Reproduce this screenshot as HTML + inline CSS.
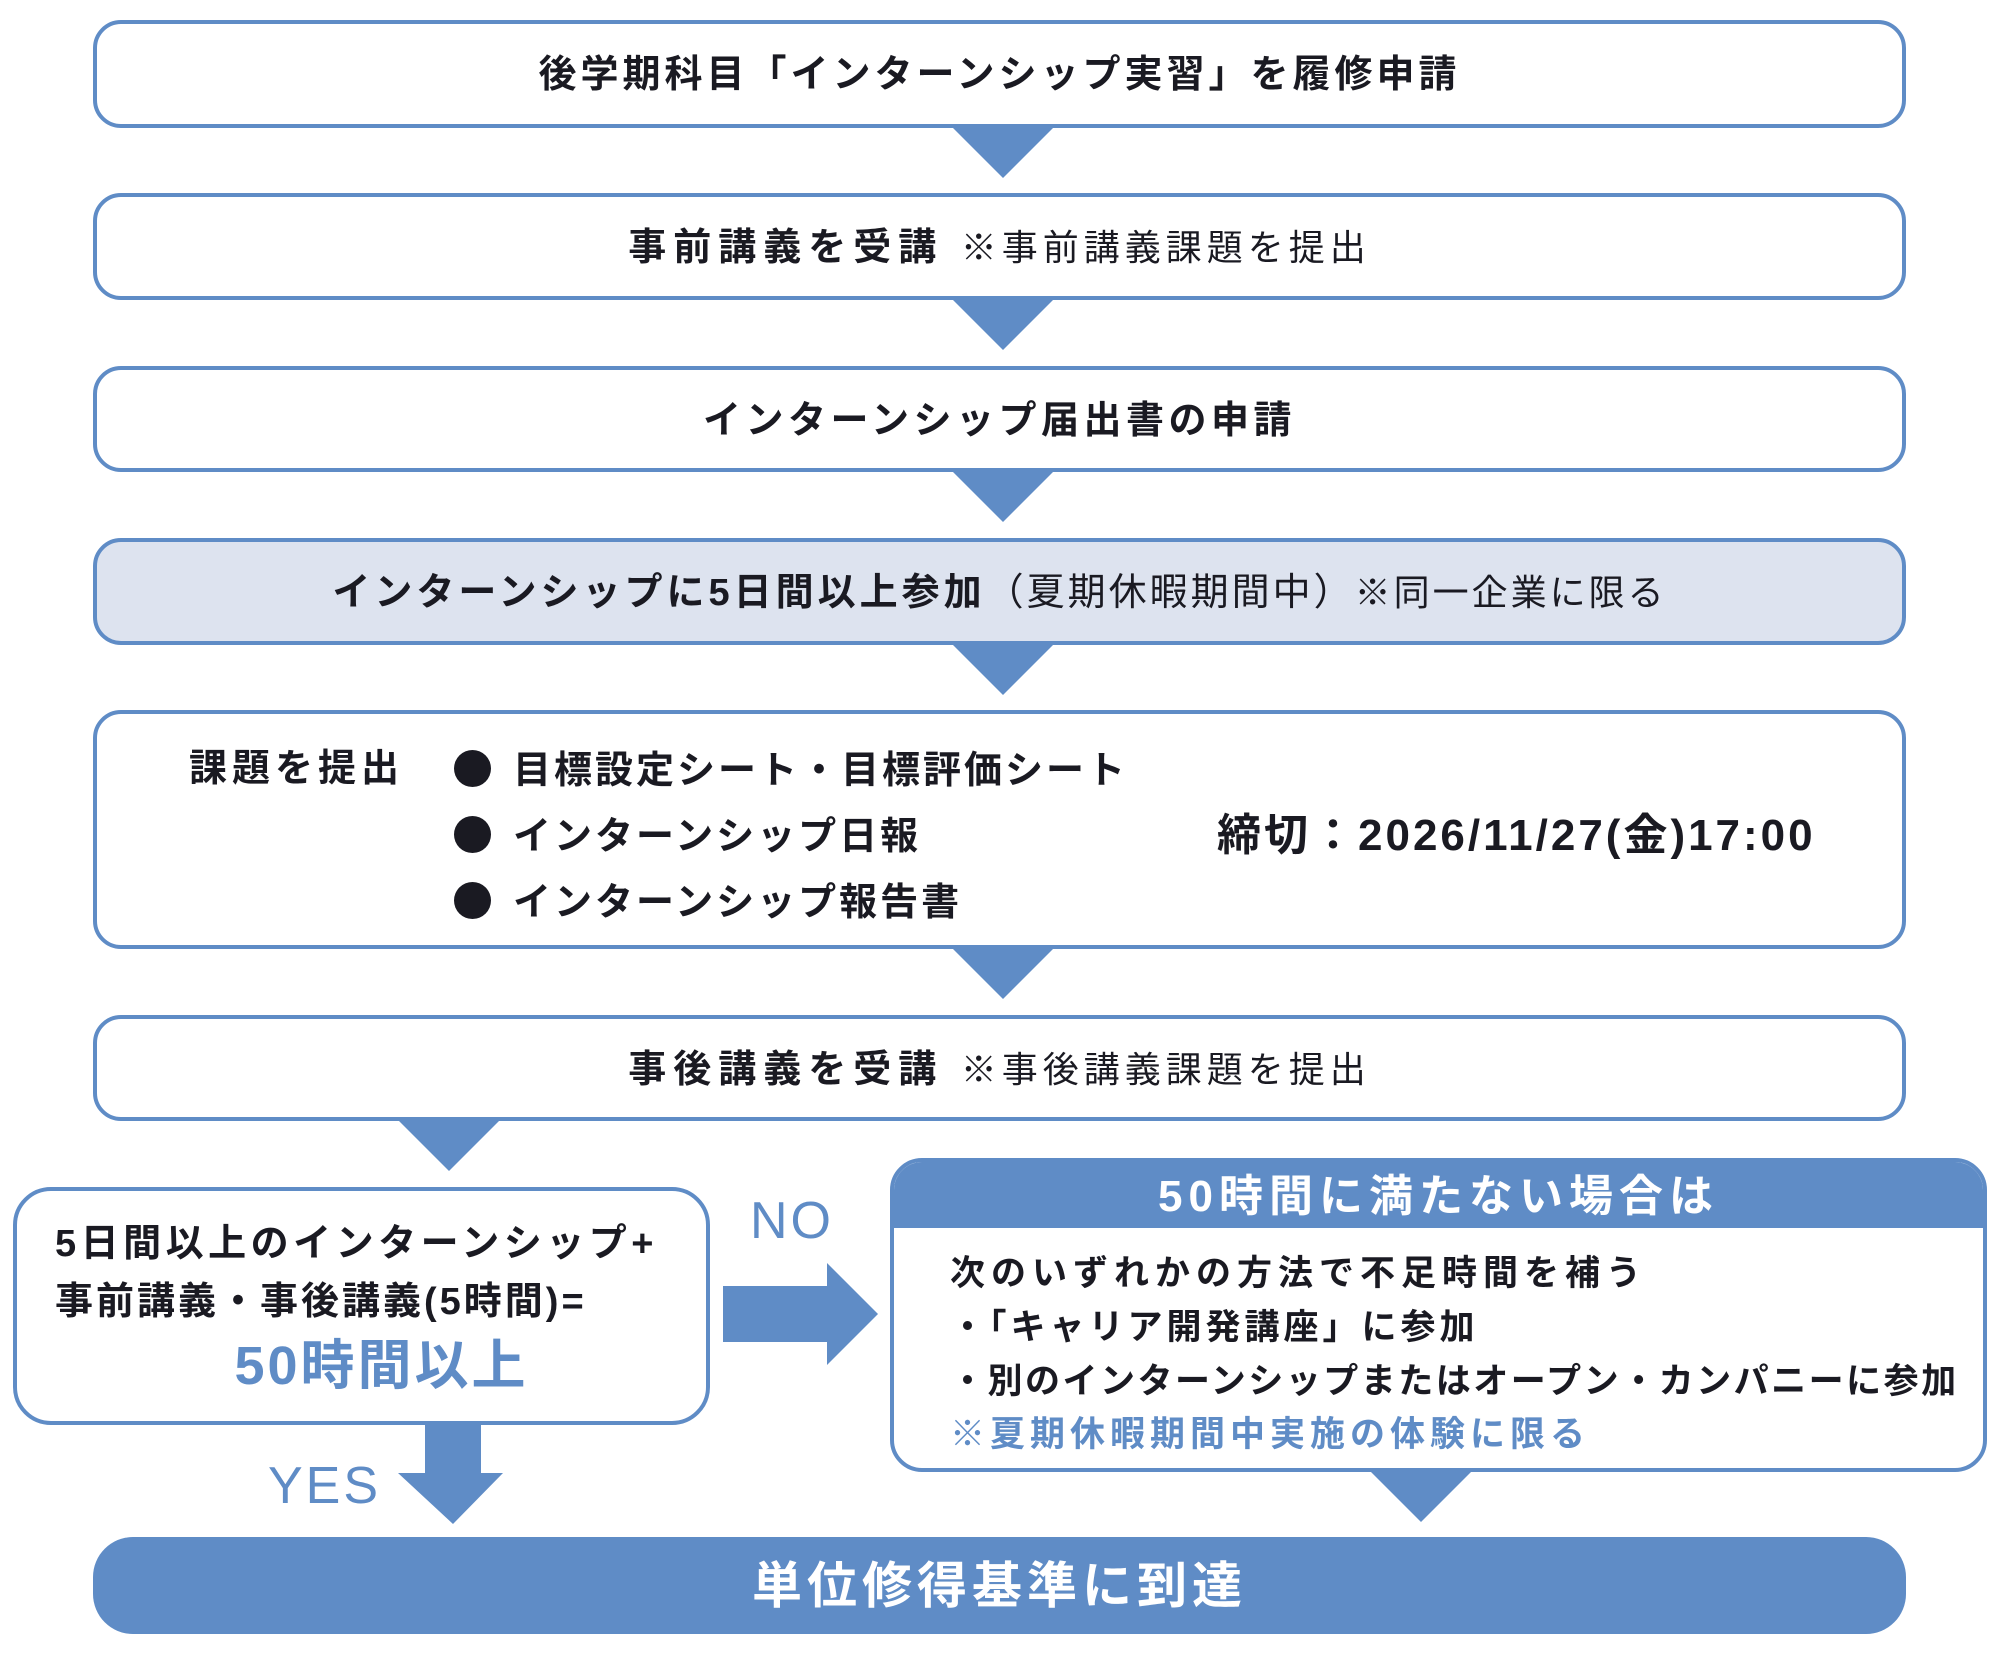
<!DOCTYPE html>
<html><head><meta charset="utf-8"><style>
*{margin:0;padding:0;box-sizing:border-box}
body{width:2000px;height:1668px;background:#fff;position:relative;overflow:hidden;font-family:"Liberation Sans","Noto Sans CJK JP",sans-serif;color:#1a1a22}
.box{position:absolute;left:93px;width:1813px;border:4px solid #5f8cc6;border-radius:28px;background:#fff}
.t{position:absolute;white-space:nowrap;font-weight:700;line-height:1}
.c{left:0;right:0;text-align:center}
.n{font-weight:400;font-size:36px;letter-spacing:5px}
.tri{position:absolute;width:0;height:0;border-left:51px solid transparent;border-right:51px solid transparent;border-top:51px solid #5f8cc6}
.dot{display:inline-block;width:37px;height:37px;border-radius:50%;background:#1a1a22;vertical-align:-4px;margin-right:22px}
</style></head><body>

<div class="box" style="top:20px;height:108px"><div class="t c" style="top:32px;font-size:38px;letter-spacing:4px">後学期科目「インターンシップ実習」を履修申請</div></div>
<div class="tri" style="left:952px;top:127px"></div>

<div class="box" style="top:193px;height:107px"><div class="t c" style="top:32px;font-size:38px;letter-spacing:7px">事前講義を受講 <span class="n">※事前講義課題を提出</span></div></div>
<div class="tri" style="left:952px;top:299px"></div>

<div class="box" style="top:366px;height:106px"><div class="t c" style="top:32px;font-size:38px;letter-spacing:4.5px">インターンシップ届出書の申請</div></div>
<div class="tri" style="left:952px;top:471px"></div>

<div class="box" style="top:538px;height:107px;background:#dde3ef"><div class="t c" style="top:32px;font-size:38px;letter-spacing:4px">インターンシップに5日間以上参加<span class="n" style="font-size:38px;letter-spacing:3px">（夏期休暇期間中）</span><span class="n" style="letter-spacing:3px">※同一企業に限る</span></div></div>
<div class="tri" style="left:952px;top:644px"></div>

<div class="box" style="top:710px;height:239px">
<div class="t" style="left:92px;top:36px;font-size:38px;letter-spacing:5px">課題を提出</div>
<div class="t" style="left:357px;top:36px;font-size:38px;letter-spacing:3px"><span class="dot"></span>目標設定シート・目標評価シート</div>
<div class="t" style="left:357px;top:102px;font-size:38px;letter-spacing:3px"><span class="dot"></span>インターンシップ日報</div>
<div class="t" style="left:357px;top:168px;font-size:38px;letter-spacing:3px"><span class="dot"></span>インターンシップ報告書</div>
<div class="t" style="left:1120px;top:100px;font-size:44px;letter-spacing:3px">締切：2026/11/27(金)17:00</div>
</div>
<div class="tri" style="left:952px;top:948px"></div>

<div class="box" style="top:1015px;height:106px"><div class="t c" style="top:32px;font-size:38px;letter-spacing:7px">事後講義を受講 <span class="n">※事後講義課題を提出</span></div></div>
<div class="tri" style="left:398px;top:1120px"></div>

<div class="box" style="left:13px;width:697px;top:1187px;height:238px;border-radius:38px">
<div class="t" style="left:38px;top:34px;font-size:38px;letter-spacing:4.5px">5日間以上のインターンシップ+</div>
<div class="t" style="left:38px;top:92px;font-size:38px;letter-spacing:3px">事前講義・事後講義(5時間)=</div>
<div class="t c" style="top:148px;font-size:54px;color:#5f8cc6;letter-spacing:3px;padding-left:40px">50時間以上</div>
</div>

<div class="t" style="left:750px;top:1195px;font-size:52px;color:#5f8cc6;font-weight:400;letter-spacing:3px">NO</div>
<svg style="position:absolute;left:0;top:0" width="2000" height="1668">
<polygon points="723,1286 827,1286 827,1263 878,1314 827,1365 827,1342 723,1342" fill="#5f8cc6"/>
<polygon points="425,1425 481,1425 481,1473 503,1473 453,1524 398,1473 425,1473" fill="#5f8cc6"/>
</svg>
<div class="t" style="left:268px;top:1460px;font-size:52px;color:#5f8cc6;font-weight:400;letter-spacing:3px">YES</div>

<div class="box" style="left:890px;width:1097px;top:1158px;height:314px;border-radius:32px;overflow:hidden">
<div style="position:absolute;left:0;right:0;top:0;height:66px;background:#5f8cc6"></div>
<div class="t c" style="top:13px;font-size:44px;color:#fff;letter-spacing:6px">50時間に満たない場合は</div>
<div class="t" style="left:56px;top:94px;font-size:35px;letter-spacing:6px">次のいずれかの方法で不足時間を補う</div>
<div class="t" style="left:56px;top:148px;font-size:35px;letter-spacing:4px">・「キャリア開発講座」に参加</div>
<div class="t" style="left:56px;top:202px;font-size:35px;letter-spacing:2.5px">・別のインターンシップまたはオープン・カンパニーに参加</div>
<div class="t" style="left:56px;top:255px;font-size:35px;color:#5f8cc6;letter-spacing:5px">※夏期休暇期間中実施の体験に限る</div>
</div>
<div class="tri" style="left:1370px;top:1471px"></div>

<div style="position:absolute;left:93px;width:1813px;top:1537px;height:97px;background:#5f8cc6;border-radius:40px">
<div class="t c" style="top:24px;font-size:50px;color:#fff;letter-spacing:5px">単位修得基準に到達</div>
</div>
</body></html>
